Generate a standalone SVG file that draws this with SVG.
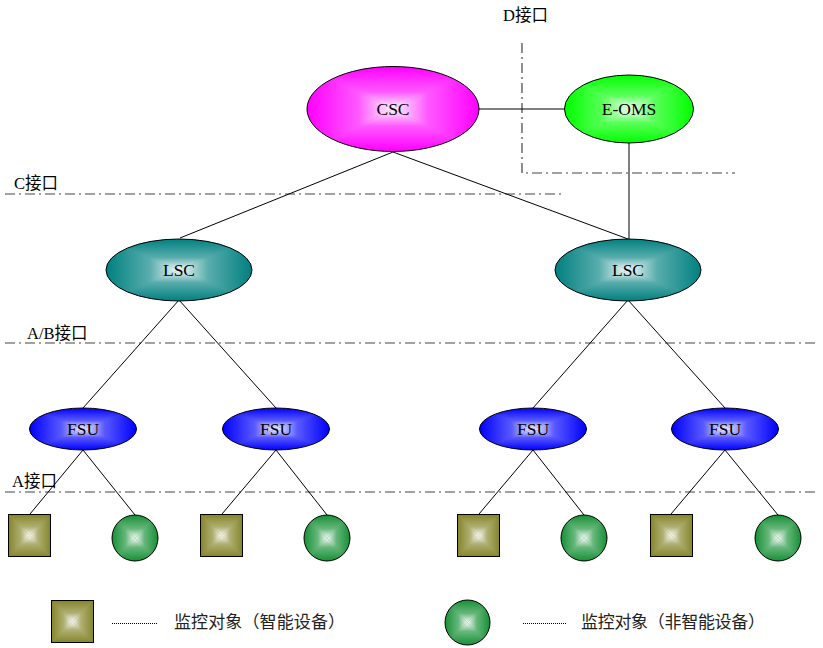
<svg xmlns="http://www.w3.org/2000/svg" xmlns:xlink="http://www.w3.org/1999/xlink" width="823" height="648" viewBox="0 0 823 648">
<style>
.bg{fill:#fff}
.ln{stroke:#000;stroke-width:1;fill:none}
.dd{stroke:#444;stroke-width:1.2;fill:none;stroke-dasharray:10 4 2 4}
.dot{stroke:#000;stroke-width:1;fill:none;stroke-dasharray:1 1}
.ol{stroke:#000;stroke-width:1;fill:none}
.lbl{font-family:"Liberation Serif","Noto Sans CJK SC",serif;font-size:17.5px;fill:#000;text-anchor:middle;dominant-baseline:central}
.ifc{font-family:"Liberation Serif","Noto Sans CJK SC",serif;font-size:16.5px;fill:#000}
.leg{font-family:"Noto Sans CJK SC",sans-serif;font-size:17px;fill:#222}
</style>
<defs>
<linearGradient id="gT" x1="0" y1="0" x2="0" y2="1"><stop offset="0" stop-color="#fff" stop-opacity="0"/><stop offset="0.6" stop-color="#fff" stop-opacity="0.35"/><stop offset="1" stop-color="#fff" stop-opacity="0.97"/></linearGradient>
<linearGradient id="gB" x1="0" y1="1" x2="0" y2="0"><stop offset="0" stop-color="#fff" stop-opacity="0"/><stop offset="0.6" stop-color="#fff" stop-opacity="0.35"/><stop offset="1" stop-color="#fff" stop-opacity="0.97"/></linearGradient>
<linearGradient id="gL" x1="0" y1="0" x2="1" y2="0"><stop offset="0" stop-color="#fff" stop-opacity="0"/><stop offset="0.6" stop-color="#fff" stop-opacity="0.35"/><stop offset="1" stop-color="#fff" stop-opacity="0.97"/></linearGradient>
<linearGradient id="gR" x1="1" y1="0" x2="0" y2="0"><stop offset="0" stop-color="#fff" stop-opacity="0"/><stop offset="0.6" stop-color="#fff" stop-opacity="0.35"/><stop offset="1" stop-color="#fff" stop-opacity="0.97"/></linearGradient>
<symbol id="rg" viewBox="0 0 1 1" preserveAspectRatio="none">
<polygon points="0,0 1,0 0.5,0.5" fill="url(#gT)"/>
<polygon points="1,0 1,1 0.5,0.5" fill="url(#gR)"/>
<polygon points="0,1 1,1 0.5,0.5" fill="url(#gB)"/>
<polygon points="0,0 0,1 0.5,0.5" fill="url(#gL)"/>
</symbol>
<clipPath id="ce" clipPathUnits="objectBoundingBox"><ellipse cx="0.5" cy="0.5" rx="0.5" ry="0.5"/></clipPath>
</defs>
<rect class="bg" x="0" y="0" width="823" height="648"/>

<g id="interfaces">
<path class="dd" d="M522,43 V173 H735"/>
<text class="ifc" x="503" y="21">D接口</text>
<path class="dd" d="M5,194 H565"/>
<text class="ifc" x="14" y="189">C接口</text>
<path class="dd" d="M5,343 H818"/>
<text class="ifc" x="27" y="339">A/B接口</text>
<path class="dd" d="M5,492 H818"/>
<text class="ifc" x="12" y="487">A接口</text>
</g>

<g id="connectors">
<path class="ln" d="M479,109 H564"/>
<path class="ln" d="M629,143 V239"/>
<path class="ln" d="M393,152 L180,238"/>
<path class="ln" d="M393,152 L628,239"/>
<path class="ln" d="M179,300 L83,408"/>
<path class="ln" d="M179,300 L276,408"/>
<path class="ln" d="M628,300 L533,408"/>
<path class="ln" d="M628,300 L725,408"/>
<path class="ln" d="M83,450 L30,514"/>
<path class="ln" d="M83,450 L135,515"/>
<path class="ln" d="M276,450 L222,514"/>
<path class="ln" d="M276,450 L327,515"/>
<path class="ln" d="M533,450 L479,514"/>
<path class="ln" d="M533,450 L584,515"/>
<path class="ln" d="M725,450 L671,514"/>
<path class="ln" d="M725,450 L778,515"/>
</g>

<g id="CSC">
<ellipse cx="393" cy="109" rx="86" ry="42.5" fill="#ff00ff"/>
<use xlink:href="#rg" x="307" y="66.5" width="172" height="85" clip-path="url(#ce)"/>
<ellipse class="ol" cx="393" cy="109" rx="86" ry="42.5"/>
<text class="lbl" x="393" y="109">CSC</text>
</g>

<g id="EOMS">
<ellipse cx="629" cy="109" rx="64.5" ry="34" fill="#00ff00"/>
<use xlink:href="#rg" x="564.5" y="75" width="129" height="68" clip-path="url(#ce)"/>
<ellipse class="ol" cx="629" cy="109" rx="64.5" ry="34"/>
<text class="lbl" x="629" y="109">E-OMS</text>
</g>

<g id="LSC1">
<ellipse cx="179" cy="270" rx="73" ry="31" fill="#008080"/>
<use xlink:href="#rg" x="106" y="239" width="146" height="62" clip-path="url(#ce)"/>
<ellipse class="ol" cx="179" cy="270" rx="73" ry="31"/>
<text class="lbl" x="179" y="270">LSC</text>
</g>

<g id="LSC2">
<ellipse cx="628" cy="270" rx="73" ry="31" fill="#008080"/>
<use xlink:href="#rg" x="555" y="239" width="146" height="62" clip-path="url(#ce)"/>
<ellipse class="ol" cx="628" cy="270" rx="73" ry="31"/>
<text class="lbl" x="628" y="270">LSC</text>
</g>

<g id="FSU1">
<ellipse cx="83" cy="429" rx="53.5" ry="21" fill="#0000ff"/>
<use xlink:href="#rg" x="29.5" y="408" width="107" height="42" clip-path="url(#ce)"/>
<ellipse class="ol" cx="83" cy="429" rx="53.5" ry="21"/>
<text class="lbl" x="83" y="429">FSU</text>
</g>
<g id="FSU2">
<ellipse cx="276" cy="429" rx="53.5" ry="21" fill="#0000ff"/>
<use xlink:href="#rg" x="222.5" y="408" width="107" height="42" clip-path="url(#ce)"/>
<ellipse class="ol" cx="276" cy="429" rx="53.5" ry="21"/>
<text class="lbl" x="276" y="429">FSU</text>
</g>
<g id="FSU3">
<ellipse cx="533" cy="429" rx="53.5" ry="21" fill="#0000ff"/>
<use xlink:href="#rg" x="479.5" y="408" width="107" height="42" clip-path="url(#ce)"/>
<ellipse class="ol" cx="533" cy="429" rx="53.5" ry="21"/>
<text class="lbl" x="533" y="429">FSU</text>
</g>
<g id="FSU4">
<ellipse cx="725" cy="429" rx="53.5" ry="21" fill="#0000ff"/>
<use xlink:href="#rg" x="671.5" y="408" width="107" height="42" clip-path="url(#ce)"/>
<ellipse class="ol" cx="725" cy="429" rx="53.5" ry="21"/>
<text class="lbl" x="725" y="429">FSU</text>
</g>

<g id="SQ1"><rect x="8.5" y="514.5" width="42" height="42" fill="#85852a"/><use xlink:href="#rg" x="8.5" y="514.5" width="42" height="42"/><rect class="ol" x="8.5" y="514.5" width="42" height="42"/></g>
<g id="CI1"><circle cx="135" cy="538" r="23" fill="#159035"/><use xlink:href="#rg" x="112" y="515" width="46" height="46" clip-path="url(#ce)"/><circle class="ol" cx="135" cy="538" r="23"/></g>
<g id="SQ2"><rect x="200.5" y="514.5" width="42" height="42" fill="#85852a"/><use xlink:href="#rg" x="200.5" y="514.5" width="42" height="42"/><rect class="ol" x="200.5" y="514.5" width="42" height="42"/></g>
<g id="CI2"><circle cx="327" cy="538" r="23" fill="#159035"/><use xlink:href="#rg" x="304" y="515" width="46" height="46" clip-path="url(#ce)"/><circle class="ol" cx="327" cy="538" r="23"/></g>
<g id="SQ3"><rect x="457.5" y="514.5" width="42" height="42" fill="#85852a"/><use xlink:href="#rg" x="457.5" y="514.5" width="42" height="42"/><rect class="ol" x="457.5" y="514.5" width="42" height="42"/></g>
<g id="CI3"><circle cx="584" cy="538" r="23" fill="#159035"/><use xlink:href="#rg" x="561" y="515" width="46" height="46" clip-path="url(#ce)"/><circle class="ol" cx="584" cy="538" r="23"/></g>
<g id="SQ4"><rect x="650.5" y="514.5" width="42" height="42" fill="#85852a"/><use xlink:href="#rg" x="650.5" y="514.5" width="42" height="42"/><rect class="ol" x="650.5" y="514.5" width="42" height="42"/></g>
<g id="CI4"><circle cx="778" cy="538" r="23" fill="#159035"/><use xlink:href="#rg" x="755" y="515" width="46" height="46" clip-path="url(#ce)"/><circle class="ol" cx="778" cy="538" r="23"/></g>

<g id="legend">
<rect x="51.5" y="600.5" width="42" height="42" fill="#85852a"/><use xlink:href="#rg" x="51.5" y="600.5" width="42" height="42"/><rect class="ol" x="51.5" y="600.5" width="42" height="42"/>
<path class="dot" d="M112,623.5 H157"/>
<text class="leg" x="174" y="628" textLength="171" lengthAdjust="spacing">监控对象（智能设备）</text>
<circle cx="467.5" cy="622.5" r="22.5" fill="#159035"/><use xlink:href="#rg" x="445" y="600" width="45" height="45" clip-path="url(#ce)"/><circle class="ol" cx="467.5" cy="622.5" r="22.5"/>
<path class="dot" d="M523,623.5 H567"/>
<text class="leg" x="581" y="628" textLength="184" lengthAdjust="spacing">监控对象（非智能设备）</text>
</g>
</svg>
